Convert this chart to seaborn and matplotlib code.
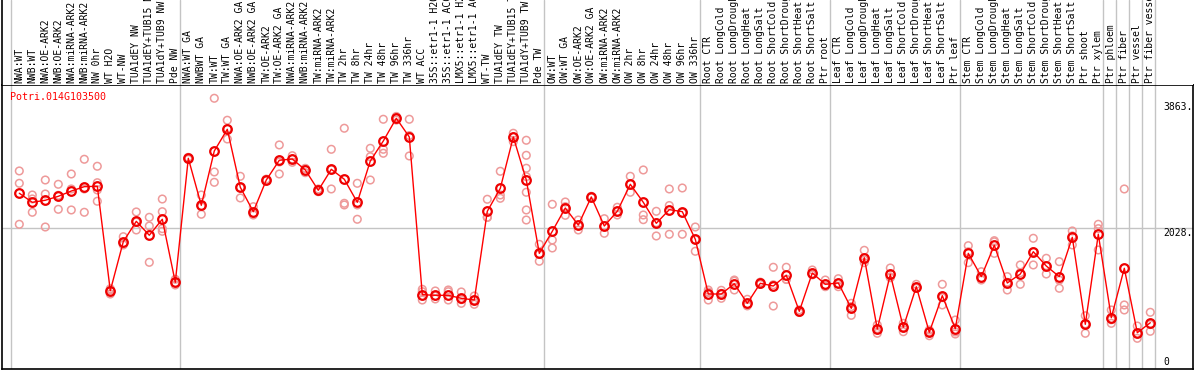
import numpy as np
import pandas as pd
import matplotlib
matplotlib.use("Agg")
import matplotlib.pyplot as plt
import seaborn as sns
from matplotlib.transforms import blended_transform_factory, offset_copy

gene_id = "Potri.014G103500"

sample_labels = [
    "NWA:WT", "NWB:WT", "NWA:OE-ARK2", "NWB:OE-ARK2", "NWA:miRNA-ARK2", "NWB:miRNA-ARK2",
    "NW 0hr", "WT H2O", "WT-NW", "TUA1dEY NW", "TUA1dEY+TUB15 NW", "TUA1dY+TUB9 NW", "Pde NW",
    "NWA:WT GA", "NWBWT GA", "TW:WT", "TW:WT GA", "NWA:OE-ARK2 GA", "NWB:OE-ARK2 GA",
    "TW:OE-ARK2", "TW:OE-ARK2 GA", "NWA:miRNA-ARK2 GA", "NWB:miRNA-ARK2 GA", "TW:miRNA-ARK2",
    "TW:miRNA-ARK2", "TW 2hr", "TW 8hr", "TW 24hr", "TW 48hr", "TW 96hr", "TW 336hr", "WT ACC",
    "35S::etr1-1 H2O", "35S::etr1-1 ACC", "LMX5::etr1-1 H2O", "LMX5::etr1-1 ACC", "WT-TW",
    "TUA1dEY TW", "TUA1dEY+TUB15 TW", "TUA1dY+TUB9 TW", "Pde TW",
    "OW:WT", "OW:WT GA", "OW:OE-ARK2", "OW:OE-ARK2 GA", "OW:miRNA-ARK2", "OW:miRNA-ARK2",
    "OW 2hr", "OW 8hr", "OW 24hr", "OW 48hr", "OW 96hr", "OW 336hr",
    "Root CTR", "Root LongCold", "Root LongDrought", "Root LongHeat", "Root LongSalt",
    "Root ShortCold", "Root ShortDrought", "Root ShortHeat", "Root ShortSalt", "Ptr root",
    "Leaf CTR", "Leaf LongCold", "Leaf LongDrought", "Leaf LongHeat", "Leaf LongSalt",
    "Leaf ShortCold", "Leaf ShortDrought", "Leaf ShortHeat", "Leaf ShortSalt", "Ptr leaf",
    "Stem CTR", "Stem LongCold", "Stem LongDrought", "Stem LongHeat", "Stem LongSalt",
    "Stem ShortCold", "Stem ShortDrought", "Stem ShortHeat", "Stem ShortSalt", "Ptr shoot",
    "Ptr xylem", "Ptr phloem", "Ptr fiber", "Ptr vessel", "Ptr fiber vessel",
]

mean_values = [
    2556, 2419, 2450, 2510, 2590, 2656, 2662, 1080, 1823, 2131, 1920, 2162, 1207,
    3086, 2374, 3197, 3525, 2647, 2277, 2757, 3056, 3075, 2909, 2601, 2919, 2768, 2419,
    3045, 3348, 3692, 3409, 1020, 1010, 1010, 965, 939, 2283, 2631, 3409, 2757, 1646,
    1980, 2333, 2075, 2500, 2060, 2283, 2692, 2419, 2101, 2308, 2277, 1859,
    1030, 1030, 1186, 889, 1192, 1151, 1313, 768, 1348, 1177,
    1197, 813, 1580, 500, 1328, 526, 1141, 450, 1005, 505,
    1646, 1293, 1768, 1197, 1333, 1671, 1454, 1293, 1889, 571, 1935,
    671, 1420, 444, 595,
]

replicate_values = [
    [2894, 2707, 2086], [2530, 2470, 2268], [2757, 2545, 2045], [2692, 2525, 2313],
    [2848, 2621, 2303], [3071, 2621, 2268], [2965, 2716, 2606, 2435], [1110, 1090, 1030],
    [1898, 1800, 1773], [2273, 2120, 2000], [2192, 2060, 1510], [2469, 2277, 2020, 1980],
    [1253, 1200, 1167],
    [3100, 3086, 3070], [2530, 2354, 2238], [3995, 2879, 2722], [3662, 3535, 3378],
    [2813, 2643, 2485], [2353, 2250, 2227], [2770, 2757, 2745], [3288, 3030, 2848],
    [3125, 3075, 3025], [2934, 2925, 2868], [2621, 2601, 2580], [3222, 2914, 2621],
    [3541, 2404, 2379], [2707, 2379, 2162], [3237, 3110, 2757], [3677, 3222, 3162],
    [3720, 3692, 3665], [3677, 3430, 3121], [1101, 1065, 939], [1076, 1000, 955],
    [1091, 1065, 939], [1061, 945, 889], [1000, 940, 874], [2465, 2192, 2190],
    [2889, 2530, 2480], [3465, 3409, 3338], [3359, 3131, 2935, 2808, 2571, 2303, 2151],
    [1783, 1630, 1526],
    [2389, 1848, 1727], [2424, 2353, 2222], [2151, 2075, 2000], [2510, 2500, 2490],
    [2171, 2060, 1950], [2344, 2280, 2227], [2813, 2692, 2571], [2909, 2227, 2156],
    [2283, 2110, 1909], [2621, 2370, 1935], [2636, 2260, 1935], [2045, 1855, 1677],
    [1091, 1060, 939], [1086, 1040, 965], [1242, 1225, 1091], [950, 870, 850],
    [1210, 1192, 1175], [1435, 1170, 848], [1435, 1253, 1250], [790, 760, 750],
    [1394, 1330, 1320], [1242, 1150, 1141],
    [1262, 1190, 1141], [889, 840, 707], [1692, 1545, 1505], [561, 505, 435],
    [1424, 1285, 1277], [586, 530, 459], [1177, 1130, 1117], [485, 455, 398],
    [1177, 975, 864], [636, 455, 424],
    [1762, 1670, 1505], [1368, 1270, 1242], [1838, 1820, 1646], [1293, 1207, 1091],
    [1470, 1352, 1177], [1874, 1670, 1470], [1571, 1460, 1333], [1520, 1240, 1117],
    [1985, 1910, 1773], [701, 577, 435], [2086, 2020, 1697],
    [788, 640, 586], [2621, 864, 788], [545, 430, 359], [753, 567, 465],
]

group_bounds = [0, 13, 41, 53, 63, 73, 84, 85, 86, 87, 88]
y_tick_values = [3863, 2028, 0]

# ---------------------------------------------------------------
idx = np.arange(len(sample_labels))
means_df = pd.DataFrame({"idx": idx, "value": mean_values})
rep_df = pd.DataFrame(
    [(i, v) for i, reps in enumerate(replicate_values) for v in reps],
    columns=["idx", "value"],
)

sns.set_theme(style="white")
plt.rcParams["font.family"] = ["DejaVu Sans Mono", "DejaVu Sans"]

W, H = 1194, 370
fig = plt.figure(figsize=(W / 100, H / 100), dpi=100)
ax = fig.add_axes([2 / W, 1 / H, 1191 / W, 284 / H])
lab = fig.add_axes([2 / W, 285 / H, 1191 / W, 85 / H], sharex=ax)

xmin, xmax = (2 - 19.3) / 13, (1193 - 19.3) / 13
ax.set_xlim(xmin, xmax)
ax.set_ylim(-106, 4196)
lab.set_ylim(0, 85)

grid_c = "#c4c4c4"
for b in group_bounds:
    ax.axvline(b - 0.64, color=grid_c, lw=1, zorder=0)
    lab.axvline(b - 0.64, color=grid_c, lw=1, zorder=0)
ax.axhline(2028, color=grid_c, lw=1, zorder=0)

sns.scatterplot(data=rep_df, x="idx", y="value", ax=ax, marker="o", s=30,
                facecolor="none", edgecolor="#ee9a9a", linewidth=1.1, zorder=2,
                legend=False)
sns.lineplot(data=means_df, x="idx", y="value", ax=ax, color="#ff0000", lw=1,
             marker="o", markersize=6.2, markerfacecolor="none",
             markeredgecolor="#ee0000", markeredgewidth=1.6, zorder=3, legend=False)

ax.set_xlabel("")
ax.set_ylabel("")
ax.set_xticks([])
ax.set_yticks([])
lab.set_xticks([])
lab.set_yticks([])
lab.set_xlabel("")
lab.set_ylabel("")

for s in ax.spines.values():
    s.set_color("black")
    s.set_linewidth(1.2)
for name, s in lab.spines.items():
    if name == "left":
        s.set_color("black")
        s.set_linewidth(1.2)
    else:
        s.set_visible(False)

for i, name in enumerate(sample_labels):
    lab.text(i, 2, name, rotation=90, ha="center", va="bottom",
             fontsize=7, color="black")

ax.text((10 - 2) / 1191, 1 - 12 / 284, gene_id, transform=ax.transAxes,
        ha="left", va="center", fontsize=7.2, color="#ff0000")

bt = blended_transform_factory(ax.transAxes, ax.transData)
xlab = (1163 - 2) / 1191
for v in y_tick_values:
    tr = offset_copy(bt, fig=fig, y=-5 if v == 2028 else 0, units="dots")
    ax.text(xlab, v, f"{v}." if v else "0", transform=tr, ha="left", va="center",
            fontsize=7, color="black")

fig.savefig("out.png", dpi=100)
